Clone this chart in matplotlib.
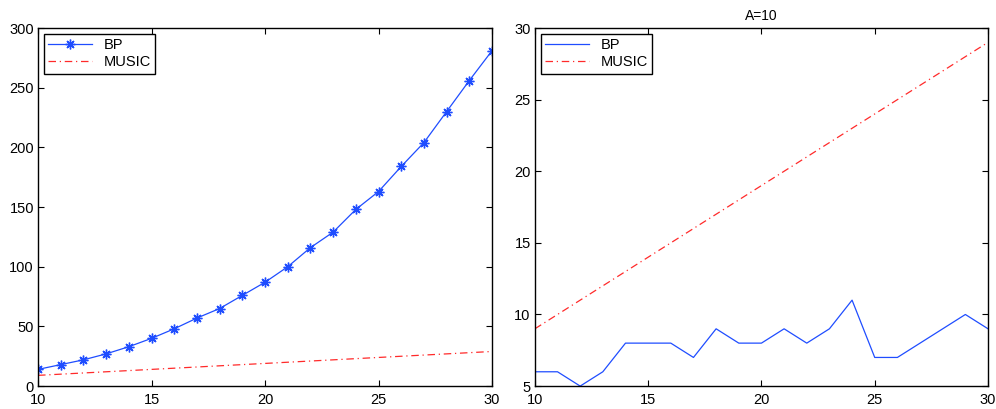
import numpy as np
import matplotlib.pyplot as plt

plt.rcParams['font.family'] = ['Liberation Sans', 'DejaVu Sans']
plt.rcParams['font.size'] = 10.5

x = np.arange(10, 31)
# left panel
bp_left = [14, 18, 22, 27, 33, 40, 48, 57, 65, 76, 87, 100, 116, 129, 148, 163, 184, 204, 230, 256, 281]
music_left = [9, 10, 11, 12, 13, 14, 15, 16, 17, 18, 19, 20, 21, 22, 23, 24, 25, 26, 27, 28, 29]
# right panel (A=10)
bp_right = [6, 6, 5, 6, 8, 8, 8, 7, 9, 8, 8, 9, 8, 9, 11, 7, 7, 8, 9, 10, 9]
music_right = [9, 10, 11, 12, 13, 14, 15, 16, 17, 18, 19, 20, 21, 22, 23, 24, 25, 26, 27, 28, 29]

blue = '#1f4dff'
red = '#ff2a2a'

fig = plt.figure(figsize=(9.96, 4.09), dpi=100)
ax1 = fig.add_axes([0.0382, 0.056, 0.4558, 0.8755])
ax2 = fig.add_axes([0.537, 0.056, 0.455, 0.8755])

ax1.plot(x, bp_left, color=blue, lw=0.9, marker=(8, 2, 0), markersize=7,
         markeredgewidth=1.0, label='BP')
ax1.plot(x, music_left, color=red, lw=0.9, dashes=[6, 3, 1, 3], label='MUSIC')
ax1.set_xlim(10, 30)
ax1.set_ylim(0, 300)
ax1.set_xticks([10, 15, 20, 25, 30])
ax1.set_yticks(np.arange(0, 301, 50))

ax2.plot(x, bp_right, color=blue, lw=0.9, label='BP')
ax2.plot(x, music_right, color=red, lw=0.9, dashes=[6, 3, 1, 3], label='MUSIC')
ax2.set_xlim(10, 30)
ax2.set_ylim(5, 30)
ax2.set_xticks([10, 15, 20, 25, 30])
ax2.set_yticks(np.arange(5, 31, 5))
ax2.set_title('A=10', fontsize=10, pad=6)

for ax in (ax1, ax2):
    ax.tick_params(direction='in', top=True, right=True, length=4, width=0.8)
    ax.tick_params(axis='x', pad=5)
    ax.tick_params(axis='y', pad=3)
    for s in ax.spines.values():
        s.set_linewidth(1.0)
    leg = ax.legend(loc='upper left', fancybox=False, framealpha=1, edgecolor='black',
                    borderaxespad=0.4, handlelength=3.0, borderpad=0.3, labelspacing=0.2)
    leg.get_frame().set_linewidth(1.0)

fig.savefig('out.png', dpi=100)
